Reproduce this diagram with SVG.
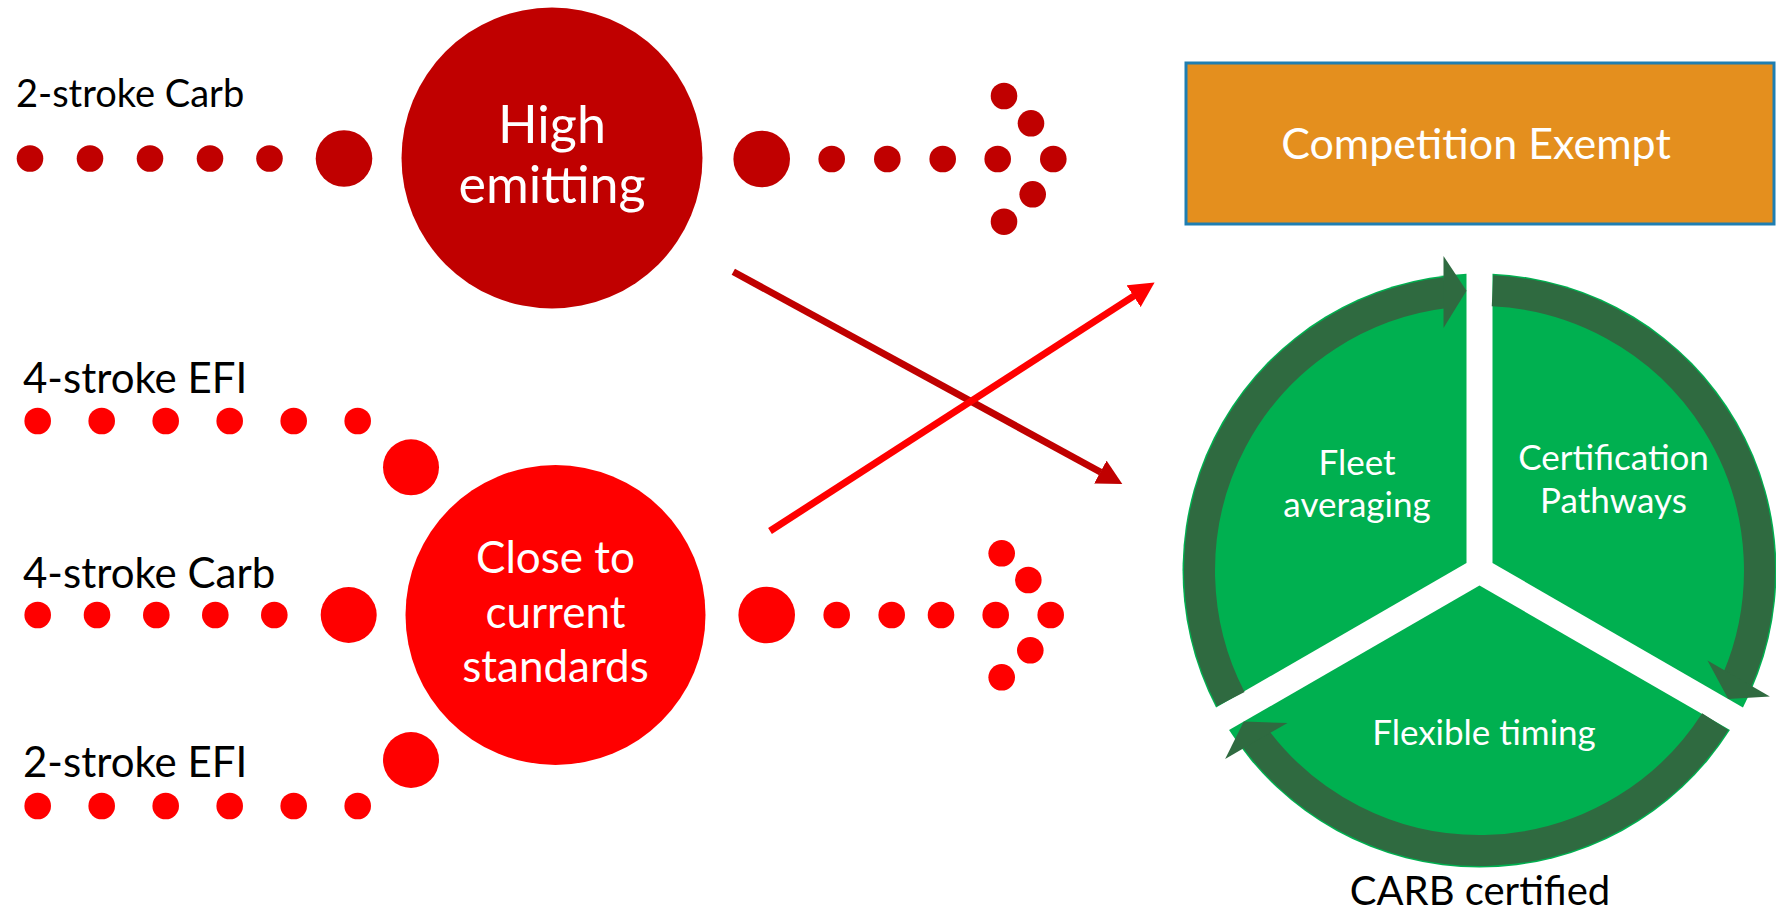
<svg xmlns="http://www.w3.org/2000/svg" xmlns:xlink="http://www.w3.org/1999/xlink" width="1776" height="916" viewBox="0 0 1776 916">
<style>
.t{font-family:Lato,"Liberation Sans",sans-serif}
.lbl{fill:#000}
.w{fill:#fff;text-anchor:middle}
.dr{fill:#C00000}
.rd{fill:#FF0000}
.seg{fill:#00B050}
.ring{fill:none;stroke:#2F6A40;stroke-width:31}
.head{fill:#2F6A40}
</style>
<defs>
<marker id="ahDark" viewBox="0 0 25 26" refX="0.5" refY="13" markerWidth="25" markerHeight="26" markerUnits="userSpaceOnUse" orient="auto"><path d="M0,0 L25,13 L0,26 Z" fill="#C00000"/></marker>
<marker id="ahRed" viewBox="0 0 25 26" refX="0.5" refY="13" markerWidth="25" markerHeight="26" markerUnits="userSpaceOnUse" orient="auto"><path d="M0,0 L25,13 L0,26 Z" fill="#FF0000"/></marker>
<g id="arc1">
<path class="ring" d="M1230.8,699.1 A280,280 0 0 1 1445.38,292.6"/>
<path class="head" d="M1443.5,256 L1466.5,290.8 L1443.5,328 Z"/>
</g>
</defs>

<g id="label-2stroke-carb"><text class="t lbl" x="16" y="106.7" font-size="38">2-stroke Carb</text></g>
<g id="label-4stroke-efi"><text class="t lbl" x="23" y="393.3" font-size="42">4-stroke EFI</text></g>
<g id="label-4stroke-carb"><text class="t lbl" x="23" y="587.7" font-size="42">4-stroke Carb</text></g>
<g id="label-2stroke-efi"><text class="t lbl" x="23" y="777.3" font-size="42">2-stroke EFI</text></g>

<g id="high-emitting">
<circle class="dr" cx="552" cy="158" r="150.5"/>
<text class="t w" x="552" y="143" font-size="52">High</text>
<text class="t w" x="552" y="203" font-size="52">emitting</text>
</g>

<g id="close-to-current">
<circle class="rd" cx="555.5" cy="615" r="150"/>
<text class="t w" x="555.5" y="572.7" font-size="44">Close to</text>
<text class="t w" x="555.5" y="628" font-size="44">current</text>
<text class="t w" x="555.5" y="682" font-size="44">standards</text>
</g>

<g id="competition-exempt">
<rect x="1186" y="63" width="588" height="161" fill="#E48F1E" stroke="#1F7EB1" stroke-width="3"/>
<text class="t w" x="1476" y="159" font-size="43">Competition Exempt</text>
</g>

<g id="carb-cycle">
<g id="fleet-averaging">
<path class="seg" d="M1466.5,563 L1466.5,273.8 A297,297 0 0 0 1216.05,707.59 Z"/>
<text class="t w" x="1357" y="475" font-size="35">Fleet</text>
<text class="t w" x="1357" y="517" font-size="35">averaging</text>
</g>
<g id="certification-pathways">
<path class="seg" d="M1492.5,563 L1492.5,273.8 A297,297 0 0 1 1742.95,707.59 Z"/>
<text class="t w" x="1613.5" y="470" font-size="35">Certification</text>
<text class="t w" x="1613.5" y="513" font-size="35">Pathways</text>
</g>
<g id="flexible-timing">
<path class="seg" d="M1479.5,585.5 L1729.95,730.11 A297,297 0 0 1 1229.05,730.11 Z"/>
<text class="t w" x="1484" y="745" font-size="35">Flexible timing</text>
</g>
<g id="cycle-arrows">
<use xlink:href="#arc1"/>
<use xlink:href="#arc1" transform="rotate(120 1479.5 570.5)"/>
<use xlink:href="#arc1" transform="rotate(240 1479.5 570.5)"/>
</g>
</g>

<g id="carb-certified"><text class="t lbl" x="1480" y="905" font-size="40" text-anchor="middle">CARB certified</text></g>

<g id="connectors">
<g id="flow-2stroke-carb" class="dr">
<circle cx="30" cy="158.5" r="13.3"/><circle cx="90" cy="158.5" r="13.3"/><circle cx="150" cy="158.5" r="13.3"/><circle cx="210" cy="158.5" r="13.3"/><circle cx="269.5" cy="158.5" r="13.3"/>
<circle cx="344" cy="158.5" r="28.3"/>
</g>
<g id="flow-high-out" class="dr">
<circle cx="761.7" cy="159" r="28.3"/>
<circle cx="831.7" cy="159" r="13.3"/><circle cx="887.3" cy="159" r="13.3"/><circle cx="942.7" cy="159" r="13.3"/><circle cx="997.7" cy="159" r="13.3"/><circle cx="1053.3" cy="159" r="13.3"/>
<circle cx="1004" cy="96" r="13.3"/><circle cx="1031" cy="123.3" r="13.3"/><circle cx="1032.7" cy="194.3" r="13.3"/><circle cx="1004" cy="221.7" r="13.3"/>
</g>
<g id="flow-4stroke-efi" class="rd">
<circle cx="37.7" cy="421" r="13.3"/><circle cx="101.7" cy="421" r="13.3"/><circle cx="165.7" cy="421" r="13.3"/><circle cx="229.7" cy="421" r="13.3"/><circle cx="293.7" cy="421" r="13.3"/><circle cx="357.7" cy="421" r="13.3"/>
<circle cx="411" cy="467.3" r="28"/>
</g>
<g id="flow-4stroke-carb" class="rd">
<circle cx="37.7" cy="615" r="13.3"/><circle cx="97" cy="615" r="13.3"/><circle cx="156.3" cy="615" r="13.3"/><circle cx="215.3" cy="615" r="13.3"/><circle cx="274.3" cy="615" r="13.3"/>
<circle cx="348.7" cy="615" r="28"/>
</g>
<g id="flow-2stroke-efi" class="rd">
<circle cx="37.7" cy="806" r="13.3"/><circle cx="101.7" cy="806" r="13.3"/><circle cx="165.7" cy="806" r="13.3"/><circle cx="229.7" cy="806" r="13.3"/><circle cx="293.7" cy="806" r="13.3"/><circle cx="357.7" cy="806" r="13.3"/>
<circle cx="411" cy="760" r="28"/>
</g>
<g id="flow-close-out" class="rd">
<circle cx="766.7" cy="615" r="28.3"/>
<circle cx="836.7" cy="615" r="13.3"/><circle cx="891.7" cy="615" r="13.3"/><circle cx="941" cy="615" r="13.3"/><circle cx="995.7" cy="615" r="13.3"/><circle cx="1050.7" cy="615" r="13.3"/>
<circle cx="1001.7" cy="553.3" r="13.3"/><circle cx="1028.3" cy="580" r="13.3"/><circle cx="1030.3" cy="650.3" r="13.3"/><circle cx="1001.7" cy="677.3" r="13.3"/>
</g>
<line id="high-to-cycle" x1="733.3" y1="271.7" x2="1100.8" y2="472.3" stroke="#C00000" stroke-width="7" marker-end="url(#ahDark)"/>
<line id="close-to-exempt" x1="770" y1="531" x2="1134" y2="295.9" stroke="#FF0000" stroke-width="7" marker-end="url(#ahRed)"/>
</g>
</svg>
